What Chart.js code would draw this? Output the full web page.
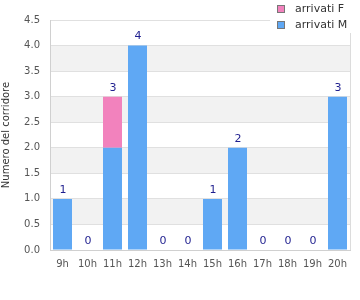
<!DOCTYPE html>
<html>
<head>
<meta charset="utf-8">
<script src="https://cdn.jsdelivr.net/npm/chart.js@4"></script>
<style>
  html,body{margin:0;padding:0;background:#fff;}
  #wrap{width:360px;height:300px;}
</style>
</head>
<body>
<div id="wrap"><canvas id="c" width="360" height="300"></canvas></div>
<script>
const hours = ['9h','10h','11h','12h','13h','14h','15h','16h','17h','18h','19h','20h'];
const arrivatiM = [1,0,2,4,0,0,1,2,0,0,0,3];
const arrivatiF = [0,0,1,0,0,0,0,0,0,0,0,0];

const BLUE = '#5fa8f4', PINK = '#f282bd';
const totals = hours.map((_,i)=>arrivatiM[i]+arrivatiF[i]);

// bande alternate grigie
const bands = {
  id:'bands',
  beforeDraw(chart){
    const {ctx, chartArea:a, scales:{y}} = chart;
    ctx.save();
    ctx.fillStyle = '#f2f2f2';
    for(let v=0.5; v<4.5; v+=1){
      const top = y.getPixelForValue(v+0.5), bot = y.getPixelForValue(v);
      ctx.fillRect(a.left, top, a.right-a.left, bot-top);
    }
    ctx.restore();
  }
};

// totali sopra le barre + bordo destro + legenda
const extras = {
  id:'extras',
  afterDatasetsDraw(chart){
    const {ctx, scales:{x,y}} = chart;
    ctx.save();
    ctx.fillStyle = '#1f1f8f';
    ctx.font = '11px "DejaVu Sans"';
    ctx.textAlign = 'center';
    ctx.textBaseline = 'middle';
    totals.forEach((t,i)=>{
      ctx.fillText(String(t), x.getPixelForValue(i)+0.5, y.getPixelForValue(t)-9);
    });
    ctx.restore();
  },
  afterDraw(chart){
    const {ctx, chartArea:a} = chart;
    ctx.save();
    ctx.strokeStyle = '#dcdcdc';
    ctx.lineWidth = 1;
    ctx.beginPath();
    ctx.moveTo(a.right+0.5, a.top); ctx.lineTo(a.right+0.5, a.bottom);
    ctx.stroke();
    // legenda
    ctx.fillStyle = '#fff';
    ctx.fillRect(270, 0, 90, 33);
    const items = [['arrivati F', PINK], ['arrivati M', BLUE]];
    ctx.font = '11px "DejaVu Sans"';
    ctx.textBaseline = 'middle';
    ctx.textAlign = 'left';
    items.forEach(([lbl,col],i)=>{
      const yy = 5 + i*16;
      ctx.fillStyle = col;
      ctx.fillRect(277.5, yy+0.5, 7, 7);
      ctx.strokeStyle = '#777';
      ctx.strokeRect(277.5, yy+0.5, 7, 7);
      ctx.fillStyle = '#333';
      ctx.fillText(lbl, 295, yy+4);
    });
    ctx.restore();
  }
};

Chart.defaults.font.family = '"DejaVu Sans", Verdana, sans-serif';
Chart.defaults.font.size = 10;
Chart.defaults.color = '#555';

new Chart(document.getElementById('c'), {
  type:'bar',
  data:{
    labels: hours,
    datasets:[
      {label:'arrivati M', data: arrivatiM, backgroundColor: BLUE, borderWidth:0, barPercentage:0.76, categoryPercentage:1},
      {label:'arrivati F', data: arrivatiF, backgroundColor: PINK, borderWidth:0, barPercentage:0.76, categoryPercentage:1}
    ]
  },
  options:{
    responsive:false,
    animation:false,
    layout:{ padding:{ top:20, right:10, left:0, bottom:0 } },
    plugins:{ legend:{display:false}, tooltip:{enabled:false} },
    scales:{
      x:{
        stacked:true,
        grid:{ display:false, drawTicks:false },
        border:{ color:'#d0d0d0' },
        ticks:{ padding:8, color:'#555', maxRotation:0, autoSkip:false },
        afterFit(s){ s.height = 50; }
      },
      y:{
        stacked:true,
        min:0, max:4.5,
        grid:{ color:'#e0e0e0', drawTicks:false },
        border:{ color:'#d0d0d0' },
        ticks:{ stepSize:0.5, padding:10, color:'#555', callback:v=>v.toFixed(1) },
        title:{ display:true, text:'Numero del corridore', color:'#333', font:{size:10}, padding:{top:0,bottom:0} },
        afterFit(s){ s.width = 50; }
      }
    }
  },
  plugins:[bands, extras]
});
</script>
</body>
</html>
